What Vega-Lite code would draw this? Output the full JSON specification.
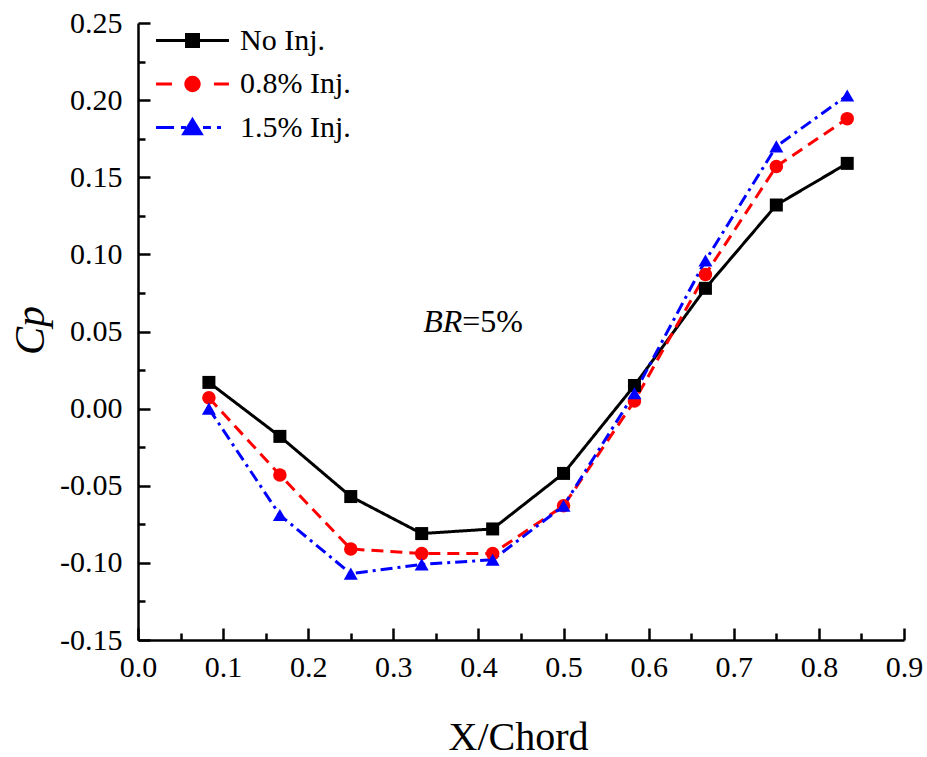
{
  "$schema": "https://vega.github.io/schema/vega-lite/v6.json",
  "width": 766,
  "height": 617,
  "autosize": "none",
  "padding": {"left": 138, "top": 23, "right": 23, "bottom": 117},
  "config": {"view": {"stroke": null}, "font": "Liberation Serif"},
  "datasets": {
    "cp": [
      {"series": "No Inj.", "x": 0.0833, "cp": 0.017},
      {"series": "No Inj.", "x": 0.1667, "cp": -0.018},
      {"series": "No Inj.", "x": 0.25, "cp": -0.057},
      {"series": "No Inj.", "x": 0.3333, "cp": -0.081},
      {"series": "No Inj.", "x": 0.4167, "cp": -0.078},
      {"series": "No Inj.", "x": 0.5, "cp": -0.042},
      {"series": "No Inj.", "x": 0.5833, "cp": 0.015},
      {"series": "No Inj.", "x": 0.6667, "cp": 0.078},
      {"series": "No Inj.", "x": 0.75, "cp": 0.132},
      {"series": "No Inj.", "x": 0.8333, "cp": 0.159},
      {"series": "0.8% Inj.", "x": 0.0833, "cp": 0.007},
      {"series": "0.8% Inj.", "x": 0.1667, "cp": -0.043},
      {"series": "0.8% Inj.", "x": 0.25, "cp": -0.091},
      {"series": "0.8% Inj.", "x": 0.3333, "cp": -0.094},
      {"series": "0.8% Inj.", "x": 0.4167, "cp": -0.094},
      {"series": "0.8% Inj.", "x": 0.5, "cp": -0.063},
      {"series": "0.8% Inj.", "x": 0.5833, "cp": 0.005},
      {"series": "0.8% Inj.", "x": 0.6667, "cp": 0.087},
      {"series": "0.8% Inj.", "x": 0.75, "cp": 0.157},
      {"series": "0.8% Inj.", "x": 0.8333, "cp": 0.188},
      {"series": "1.5% Inj.", "x": 0.0833, "cp": 0.000},
      {"series": "1.5% Inj.", "x": 0.1667, "cp": -0.069},
      {"series": "1.5% Inj.", "x": 0.25, "cp": -0.107},
      {"series": "1.5% Inj.", "x": 0.3333, "cp": -0.101},
      {"series": "1.5% Inj.", "x": 0.4167, "cp": -0.098},
      {"series": "1.5% Inj.", "x": 0.5, "cp": -0.063},
      {"series": "1.5% Inj.", "x": 0.5833, "cp": 0.010},
      {"series": "1.5% Inj.", "x": 0.6667, "cp": 0.096},
      {"series": "1.5% Inj.", "x": 0.75, "cp": 0.170},
      {"series": "1.5% Inj.", "x": 0.8333, "cp": 0.203}
    ],
    "note": [{"x": 0.381, "y": 0.056}]
  },
  "layer": [
    {
      "data": {"name": "cp"},
      "mark": {"type": "line", "strokeWidth": 3},
      "encoding": {
        "x": {"field": "x", "type": "quantitative", "scale": {"domain": [0, 0.9], "nice": false, "zero": false}, "axis": null},
        "y": {"field": "cp", "type": "quantitative", "scale": {"domain": [-0.15, 0.25], "nice": false, "zero": false}, "axis": null},
        "color": {"field": "series", "type": "nominal", "scale": {"domain": ["No Inj.", "0.8% Inj.", "1.5% Inj."], "range": ["#000000", "#ff0000", "#0000ff"]}, "legend": null},
        "strokeDash": {
          "field": "series", "type": "nominal",
          "scale": {"domain": ["No Inj.", "0.8% Inj.", "1.5% Inj."], "range": [[1, 0], [12, 7], [12, 5, 3, 5]]},
          "legend": null
        }
      }
    },
    {
      "data": {"name": "cp"},
      "mark": {"type": "point", "filled": true, "opacity": 1},
      "encoding": {
        "x": {
          "field": "x", "type": "quantitative",
          "axis": {
            "orient": "bottom",
            "values": [0, 0.1, 0.2, 0.3, 0.4, 0.5, 0.6, 0.7, 0.8, 0.9],
            "format": ".1f",
            "grid": false,
            "tickSize": -12, "tickWidth": 2.5, "tickColor": "#000000",
            "domainWidth": 2.5, "domainColor": "#000000",
            "labelFont": "Liberation Serif", "labelFontSize": 30, "labelColor": "#000000",
            "labelPadding": 24, "labelFlush": false, "labelOverlap": false,
            "title": "X/Chord",
            "titleFont": "Liberation Serif", "titleFontSize": 40, "titleFontWeight": "normal", "titleColor": "#000000",
            "titleX": 380, "titleY": 97, "titleAlign": "center", "titleBaseline": "middle"
          }
        },
        "y": {
          "field": "cp", "type": "quantitative",
          "axis": {
            "orient": "left",
            "values": [-0.15, -0.1, -0.05, 0, 0.05, 0.1, 0.15, 0.2, 0.25],
            "labelExpr": "replace(format(datum.value, '.2f'), '\u2212', '-')",
            "grid": false,
            "tickSize": -12, "tickWidth": 2.5, "tickColor": "#000000",
            "domainWidth": 2.5, "domainColor": "#000000",
            "labelFont": "Liberation Serif", "labelFontSize": 30, "labelColor": "#000000",
            "labelPadding": 28, "labelFlush": false, "labelOverlap": false,
            "title": "Cp",
            "titleFont": "Liberation Serif", "titleFontSize": 42, "titleFontStyle": "italic", "titleFontWeight": "normal", "titleColor": "#000000",
            "titleX": -108, "titleY": 307, "titleAlign": "center", "titleBaseline": "middle", "titleAngle": 270
          }
        },
        "color": {"field": "series", "type": "nominal", "scale": {"domain": ["No Inj.", "0.8% Inj.", "1.5% Inj."], "range": ["#000000", "#ff0000", "#0000ff"]}, "legend": null},
        "shape": {"field": "series", "type": "nominal", "scale": {"domain": ["No Inj.", "0.8% Inj.", "1.5% Inj."], "range": ["square", "circle", "triangle-up"]}, "legend": null},
        "size": {"field": "series", "type": "ordinal", "scale": {"domain": ["No Inj.", "0.8% Inj.", "1.5% Inj."], "range": [169, 196, 420]}, "legend": null}
      }
    },
    {
      "data": {"name": "cp"},
      "transform": [{"filter": "datum.x < 0"}],
      "mark": {"type": "point", "filled": true, "opacity": 1, "strokeWidth": 3},
      "encoding": {
        "x": {"field": "x", "type": "quantitative", "axis": null},
        "y": {"field": "cp", "type": "quantitative", "axis": null},
        "color": {
          "field": "series", "type": "nominal",
          "scale": {"domain": ["No Inj.", "0.8% Inj.", "1.5% Inj."], "range": ["#000000", "#ff0000", "#0000ff"]},
          "legend": {
            "title": null,
            "orient": "none",
            "legendX": 17,
            "legendY": 1,
            "padding": 0,
            "rowPadding": 11.5,
            "symbolSize": 900,
            "symbolOffset": 21,
            "labelOffset": 31,
            "symbolStrokeWidth": 3,
            "symbolOpacity": 1,
            "labelFont": "Liberation Serif",
            "labelFontSize": 30,
            "labelColor": "#000000",
            "labelLimit": 400
          }
        },
        "stroke": {"field": "series", "type": "nominal", "scale": {"domain": ["No Inj.", "0.8% Inj.", "1.5% Inj."], "range": ["#000000", "#ff0000", "#0000ff"]}, "legend": null},
        "shape": {
          "field": "series", "type": "nominal",
          "scale": {"domain": ["No Inj.", "0.8% Inj.", "1.5% Inj."], "range": [
            "M-2.43,0L2.43,0M-0.4,-0.4L0.4,-0.4L0.4,0.4L-0.4,0.4Z",
            "M-2.43,0L-1.37,0M1.43,0L2.43,0M-0.45,0A0.45,0.45,0,1,0,0.45,0A0.45,0.45,0,1,0,-0.45,0Z",
            "M-2.43,0L-1.23,0M-0.77,0L-0.43,0M0.7,0L1.23,0M1.63,0L1.9,0M0,-0.52L0.58,0.42L-0.58,0.42Z"
          ]},
          "legend": null
        }
      }
    },
    {
      "data": {"name": "note"},
      "mark": {"type": "text", "text": "BR", "align": "right", "baseline": "middle", "fontSize": 32, "fontStyle": "italic", "font": "Liberation Serif", "color": "#000000"},
      "encoding": {
        "x": {
          "field": "x", "type": "quantitative",
          "axis": {
            "orient": "bottom",
            "values": [0.05, 0.15, 0.25, 0.35, 0.45, 0.55, 0.65, 0.75, 0.85],
            "labels": false, "domain": false, "grid": false, "title": null,
            "tickSize": -7, "tickWidth": 2.5, "tickColor": "#000000"
          }
        },
        "y": {
          "field": "y", "type": "quantitative",
          "axis": {
            "orient": "left",
            "values": [-0.125, -0.075, -0.025, 0.025, 0.075, 0.125, 0.175, 0.225],
            "labels": false, "domain": false, "grid": false, "title": null,
            "tickSize": -7, "tickWidth": 2.5, "tickColor": "#000000"
          }
        }
      }
    },
    {
      "data": {"name": "note"},
      "mark": {"type": "text", "text": "=5%", "align": "left", "baseline": "middle", "fontSize": 32, "font": "Liberation Serif", "color": "#000000"},
      "encoding": {
        "x": {"field": "x", "type": "quantitative", "axis": null},
        "y": {"field": "y", "type": "quantitative", "axis": null}
      }
    }
  ],
  "resolve": {
    "axis": {"x": "independent", "y": "independent"},
    "scale": {"color": "independent", "shape": "independent", "stroke": "independent"}
  }
}
